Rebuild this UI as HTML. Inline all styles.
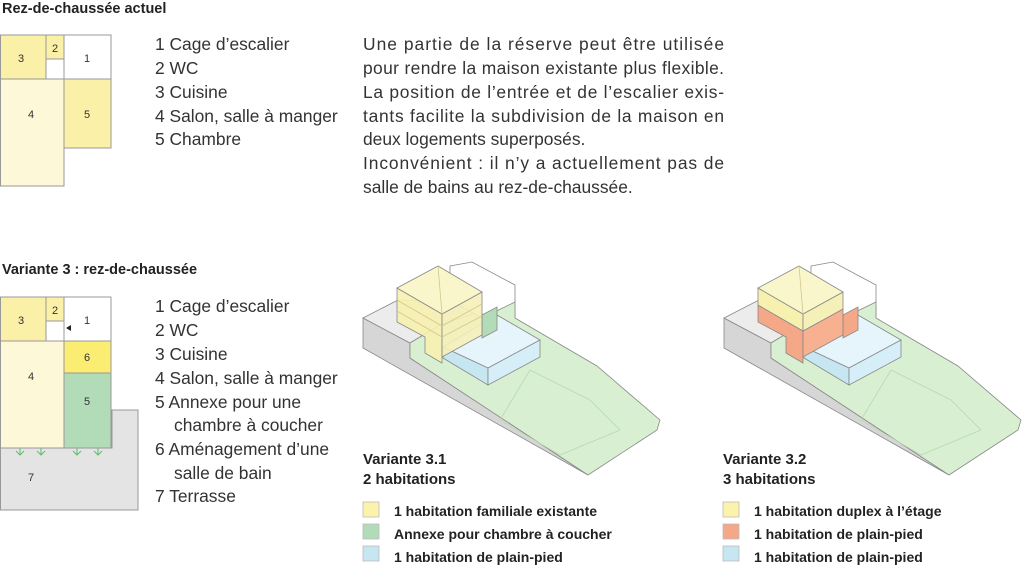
<!DOCTYPE html>
<html><head><meta charset="utf-8"><style>
html,body{margin:0;padding:0;background:#fff;}
svg{display:block;font-family:"Liberation Sans",sans-serif;}
.t{font-size:17.4px;fill:#333;}
.b{font-size:14.5px;font-weight:bold;fill:#222;}
.n{font-size:11px;fill:#333;}
</style></head><body>
<svg width="1024" height="570" viewBox="0 0 1024 570">
<text class="b" x="2" y="13">Rez-de-chaussée actuel</text>
<g stroke="#999" stroke-width="1">
<rect x="0.5" y="35" width="46" height="44" fill="#fbf0a8"/>
<rect x="46" y="35" width="18" height="24" fill="#fbf0a8"/>
<rect x="46" y="59" width="18" height="20" fill="#fff"/>
<rect x="64" y="35" width="47" height="44" fill="#fff"/>
<rect x="0.5" y="79" width="63.5" height="107" fill="#fdf8d8"/>
<rect x="64" y="79" width="47" height="69" fill="#fbf0a8"/>
</g>
<g class="n"><text x="18" y="62">3</text><text x="52" y="52">2</text><text x="84" y="62">1</text><text x="28" y="118">4</text><text x="84" y="118">5</text></g>
<g class="t"><text x="155" y="50">1 Cage d’escalier</text><text x="155" y="74">2 WC</text><text x="155" y="98">3 Cuisine</text><text x="155" y="122">4 Salon, salle à manger</text><text x="155" y="145">5 Chambre</text></g>
<g class="t">
<text x="363" y="50" textLength="361">Une partie de la réserve peut être utilisée</text>
<text x="363" y="74" textLength="361">pour rendre la maison existante plus flexible.</text>
<text x="363" y="98" textLength="361">La position de l’entrée et de l’escalier exis-</text>
<text x="363" y="122" textLength="361">tants facilite la subdivision de la maison en</text>
<text x="363" y="145">deux logements superposés.</text>
<text x="363" y="169" textLength="361">Inconvénient : il n’y a actuellement pas de</text>
<text x="363" y="193">salle de bains au rez-de-chaussée.</text>
</g>

<text class="b" x="2" y="274">Variante 3 : rez-de-chaussée</text>
<g stroke="#999" stroke-width="1">
<polygon points="112,410 138,410 138,510 0.5,510 0.5,448 112,448" fill="#e4e4e4"/>
<rect x="0.5" y="297" width="46" height="44" fill="#fbf0a8"/>
<rect x="46" y="297" width="18" height="24" fill="#fbf0a8"/>
<rect x="46" y="321" width="18" height="20" fill="#fff"/>
<rect x="64" y="297" width="47" height="44" fill="#fff"/>
<rect x="0.5" y="341" width="63.5" height="107" fill="#fdf8d8"/>
<rect x="64" y="341" width="47" height="32" fill="#fbec72"/>
<rect x="64" y="373" width="47" height="75" fill="#b2dcb8"/>
</g>
<polygon points="66,328 71,325 71,331" fill="#222"/>
<g stroke="#5bbf6a" stroke-width="1" fill="none">
<path d="M20,448v7M16,451l4,4 4,-4M41,448v7M37,451l4,4 4,-4M77,448v7M73,451l4,4 4,-4M98,448v7M94,451l4,4 4,-4"/>
</g>
<g class="n"><text x="18" y="324">3</text><text x="52" y="314">2</text><text x="84" y="324">1</text><text x="84" y="361">6</text><text x="28" y="380">4</text><text x="84" y="405">5</text><text x="28" y="481">7</text></g>
<g class="t"><text x="155" y="312">1 Cage d’escalier</text><text x="155" y="336">2 WC</text><text x="155" y="360">3 Cuisine</text><text x="155" y="384">4 Salon, salle à manger</text><text x="155" y="408">5 Annexe pour une</text><text x="174" y="431">chambre à coucher</text><text x="155" y="455">6 Aménagement d’une</text><text x="174" y="479">salle de bain</text><text x="155" y="502">7 Terrasse</text></g>

<defs>
<g id="site" stroke="#888" stroke-width="0.8">
<polygon points="363,318 363,348 588,475 410,358 410,343" fill="#d6d6d6"/>
<polygon points="363,318 398,300 515,305 515,318 440,325 410,343" fill="#ececec"/>
<polygon points="410,343 440,325 515,300 515,318 597,366 660,420 657,430 588,475 410,358" fill="#d9efd2"/>
<polygon points="530,370 590,400 620,430 560,455 500,420" fill="none" stroke="#b8d8b0"/>
<polygon points="450,266 472,262 515,285 515,302 482,318 450,300" fill="#fff"/>
<polygon points="443,347 497,315 540,340 488,368" fill="#e6f5fb"/>
<polygon points="443,347 488,368 488,385 443,358" fill="#c6e7f2"/>
<polygon points="488,368 540,340 540,357 488,385" fill="#d6eef7"/>
</g>
</defs>
<use href="#site"/>
<g stroke="#888" stroke-width="0.8">
<polygon points="482,315 497,307 497,330 482,338" fill="#b2dcb8"/>
<polygon points="397,288 442,314 442,363 425,353 425,337 397,322" fill="#f7f1b0" fill-opacity="0.9"/>
<polygon points="442,314 482,292 482,335 442,357" fill="#f5efb8" fill-opacity="0.9"/>
<polygon points="397,288 438,266 482,292 442,314" fill="#faf6cc"/>
<path d="M438,266 L442,314 M397,300 L442,326 L482,304 M397,311 L442,337 L482,316" fill="none" stroke="#cfc98a"/>
</g>
<use href="#site" transform="translate(361,0)"/>
<g stroke="#888" stroke-width="0.8" transform="translate(361,0)">
<polygon points="482,315 497,307 497,330 482,338" fill="#f4a888"/>
<polygon points="397,305 442,331 442,363 425,353 425,337 397,322" fill="#f4a888"/>
<polygon points="442,331 482,309 482,335 442,357" fill="#f7b090"/>
<polygon points="397,288 442,314 442,331 397,305" fill="#f7f1b0"/>
<polygon points="442,314 482,292 482,309 442,331" fill="#f5efb8"/>
<polygon points="397,288 438,266 482,292 442,314" fill="#faf6cc"/>
<path d="M438,266 L442,314" fill="none" stroke="#cfc98a"/>
</g>

<text class="b" x="363" y="464" style="font-size:15px">Variante 3.1</text>
<text class="b" x="363" y="484" style="font-size:15px">2 habitations</text>
<text class="b" x="723" y="464" style="font-size:15px">Variante 3.2</text>
<text class="b" x="723" y="484" style="font-size:15px">3 habitations</text>
<g stroke="#bbb" stroke-width="0.8">
<rect x="363" y="502" width="16" height="15" fill="#fbf3ac"/>
<rect x="363" y="524" width="16" height="15" fill="#b2dcb8"/>
<rect x="363" y="546" width="16" height="15" fill="#c6e7f2"/>
<rect x="723" y="502" width="16" height="15" fill="#fbf3ac"/>
<rect x="723" y="524" width="16" height="15" fill="#f4a888"/>
<rect x="723" y="546" width="16" height="15" fill="#c6e7f2"/>
</g>
<g class="b" style="font-size:14px">
<text x="394" y="516">1 habitation familiale existante</text>
<text x="394" y="539">Annexe pour chambre à coucher</text>
<text x="394" y="562">1 habitation de plain-pied</text>
<text x="754" y="516">1 habitation duplex à l’étage</text>
<text x="754" y="539">1 habitation de plain-pied</text>
<text x="754" y="562">1 habitation de plain-pied</text>
</g>
</svg>
</body></html>
